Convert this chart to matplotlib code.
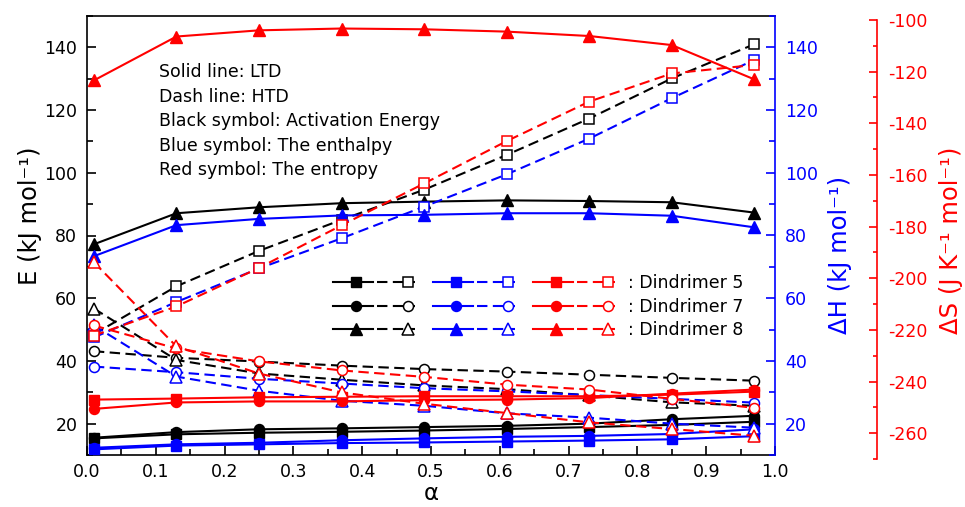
import matplotlib
matplotlib.use('Agg')
import matplotlib.pyplot as plt
from matplotlib.lines import Line2D
from matplotlib.legend_handler import HandlerBase
from matplotlib.ticker import MultipleLocator, FormatStrFormatter

plt.rcParams['font.family'] = ['DejaVu Sans']
plt.rcParams['axes.unicode_minus'] = False

# ---------------- data ----------------
alpha = [0.01, 0.13, 0.25, 0.37, 0.49, 0.61, 0.73, 0.85, 0.97]

# Activation energy E (kJ/mol)
E_ltd_d5 = [15.3, 16.6, 17.1, 17.4, 17.8, 18.3, 18.9, 19.6, 20.6]
E_ltd_d7 = [15.5, 17.3, 18.2, 18.5, 18.9, 19.3, 20.0, 21.4, 22.5]
E_ltd_d8 = [77.2, 87.1, 89.0, 90.3, 90.8, 91.2, 91.0, 90.6, 87.3]
E_htd_d5 = [48.5, 63.8, 75.1, 85.0, 94.6, 105.7, 117.3, 130.1, 141.0]
E_htd_d7 = [43.1, 41.0, 39.8, 38.5, 37.4, 36.6, 35.6, 34.6, 33.7]
E_htd_d8 = [56.7, 40.3, 36.0, 34.0, 32.2, 31.0, 29.0, 26.8, 25.7]

# Enthalpy dH (kJ/mol)
H_ltd_d5 = [11.8, 13.0, 13.4, 13.8, 14.0, 14.3, 14.6, 15.0, 16.0]
H_ltd_d7 = [12.3, 13.4, 13.9, 14.7, 15.3, 15.8, 16.1, 16.7, 18.2]
H_ltd_d8 = [73.4, 83.3, 85.3, 86.4, 86.6, 87.1, 87.1, 86.3, 82.6]
H_htd_d5 = [47.5, 58.8, 69.5, 79.1, 89.2, 99.5, 110.9, 123.8, 136.0]
H_htd_d7 = [38.2, 36.4, 34.3, 32.8, 31.3, 30.3, 29.1, 27.9, 26.7]
H_htd_d8 = [51.3, 35.0, 30.5, 27.3, 25.7, 23.3, 21.9, 20.0, 18.7]

# Entropy dS (J/K/mol)
S_ltd_d5 = [-247.0, -246.6, -246.1, -245.9, -245.7, -245.7, -245.7, -245.1, -243.9]
S_ltd_d7 = [-250.6, -248.1, -247.7, -247.7, -247.2, -247.0, -246.4, -244.7, -243.1]
S_ltd_d8 = [-123.4, -106.4, -104.0, -103.3, -103.6, -104.5, -106.2, -109.7, -123.0]
S_htd_d5 = [-222.2, -210.9, -196.0, -179.5, -163.3, -146.9, -131.6, -120.7, -117.4]
S_htd_d7 = [-218.3, -227.2, -232.2, -235.7, -238.2, -241.2, -243.1, -246.7, -250.2]
S_htd_d8 = [-193.8, -226.4, -236.9, -244.2, -248.6, -252.2, -255.8, -258.4, -261.0]

dendrimer_labels = [': Dindrimer 5', ': Dindrimer 7', ': Dindrimer 8']
note_lines = ['Solid line: LTD', 'Dash line: HTD', 'Black symbol: Activation Energy',
              'Blue symbol: The enthalpy', 'Red symbol: The entropy']
x_ticks = [0.0, 0.1, 0.2, 0.3, 0.4, 0.5, 0.6, 0.7, 0.8, 0.9, 1.0]

# ---------------- figure ----------------
W, H = 965, 507
fig = plt.figure(figsize=(W / 100, H / 100), dpi=100)
L, R, T, B = 87, 775, 16, 455
ax = fig.add_axes([L / W, 1 - B / H, (R - L) / W, (B - T) / H])
axh = ax.twinx()
axs = fig.add_axes([L / W, 1 - 459 / H, (R - L) / W, 439 / H])
axs.patch.set_visible(False)

markers = ['s', 'o', '^']
msizes = [6.5, 7.2, 8.5]
LW_S, LW_D = 1.5, 1.5


def draw(axis, color, ltd, htd):
    solids, dashes = [], []
    for i, (yl, yh) in enumerate(zip(ltd, htd)):
        ls, = axis.plot(alpha, yl, color=color, lw=LW_S, marker=markers[i], ms=msizes[i],
                        mfc=color, mec=color, mew=1.0)
        ld, = axis.plot(alpha, yh, color=color, lw=LW_D, ls=(0, (5, 2.6)), marker=markers[i],
                        ms=msizes[i], mfc='white', mec=color, mew=1.1)
        solids.append(ls)
        dashes.append(ld)
    return solids, dashes


bs, bd = draw(ax, 'black', [E_ltd_d5, E_ltd_d7, E_ltd_d8], [E_htd_d5, E_htd_d7, E_htd_d8])
us, ud = draw(axh, '#0000ff', [H_ltd_d5, H_ltd_d7, H_ltd_d8], [H_htd_d5, H_htd_d7, H_htd_d8])
rs, rd = draw(axs, '#ff0000', [S_ltd_d5, S_ltd_d7, S_ltd_d8], [S_htd_d5, S_htd_d7, S_htd_d8])

# ---------------- axes styling ----------------
for a in (ax, axh, axs):
    a.set_xlim(0, 1.0)
ax.set_ylim(10, 150)
axh.set_ylim(10, 150)
axs.set_ylim(-270, -100)

SW = 1.2
ax.spines['right'].set_visible(False)
for s in ('left', 'top', 'bottom'):
    ax.spines[s].set_linewidth(SW)
for s in ('left', 'top', 'bottom'):
    axh.spines[s].set_visible(False)
axh.spines['right'].set_color('#0000ff')
axh.spines['right'].set_linewidth(SW)
for s in ('left', 'top', 'bottom'):
    axs.spines[s].set_visible(False)
axs.spines['right'].set_position(('axes', (877 - L) / (R - L)))
axs.spines['right'].set_color('#ff0000')
axs.spines['right'].set_linewidth(SW)
axs.xaxis.set_visible(False)
axs.yaxis.tick_right()
axs.yaxis.set_label_position('right')

ax.set_xticks(x_ticks)
ax.xaxis.set_major_formatter(FormatStrFormatter('%.1f'))
ax.xaxis.set_minor_locator(MultipleLocator(0.05))
ax.yaxis.set_major_locator(MultipleLocator(20))
ax.yaxis.set_minor_locator(MultipleLocator(10))
axh.yaxis.set_major_locator(MultipleLocator(20))
axh.yaxis.set_minor_locator(MultipleLocator(10))
axs.yaxis.set_major_locator(MultipleLocator(20))
axs.yaxis.set_minor_locator(MultipleLocator(10))

FS = 12.5
ax.tick_params(axis='both', which='both', direction='in', top=False, right=False, width=SW)
ax.tick_params(axis='both', which='major', length=6.5, labelsize=FS)
ax.tick_params(axis='both', which='minor', length=4)
ax.tick_params(axis='x', which='major', pad=6)
ax.tick_params(axis='y', which='major', pad=7)
axh.tick_params(axis='y', which='both', direction='in', colors='#0000ff', width=SW)
axh.tick_params(axis='y', which='major', length=6.5, labelsize=FS, pad=7)
axh.tick_params(axis='y', which='minor', length=4)
axs.tick_params(axis='y', which='both', direction='in', colors='#ff0000', width=SW,
                left=False, labelleft=False, right=True, labelright=True)
axs.tick_params(axis='y', which='major', length=5.5, labelsize=FS, pad=8)
axs.tick_params(axis='y', which='minor', length=3.2)

LFS = 17.5
ax.set_xlabel('α', fontsize=16.5)
ax.xaxis.set_label_coords(0.5, (B - 494) / (B - T))
ax.xaxis.label.set_va('center')
ax.set_ylabel('E (kJ mol⁻¹)', fontsize=LFS)
ax.yaxis.set_label_coords((29.5 - L) / (R - L), (B - 216) / (B - T))
axh.set_ylabel('ΔH (kJ mol⁻¹)', fontsize=LFS, color='#0000ff')
axh.yaxis.set_label_coords((840 - L) / (R - L), (B - 255) / (B - T))
axs.set_ylabel('ΔS (J K⁻¹ mol⁻¹)', fontsize=LFS, color='#ff0000')
axs.yaxis.set_label_coords((951 - L) / (R - L), (459 - 240.5) / 439)
for lab in (ax.yaxis.label, axh.yaxis.label, axs.yaxis.label):
    lab.set_va('center')
    lab.set_ha('center')
    lab.set_rotation(90)

# annotation block
baselines = [77.3, 101.7, 126.2, 150.8, 175.3]
for txt, yb in zip(note_lines, baselines):
    ax.text((159.3 - L) / (R - L), (B - yb) / (B - T), txt, transform=ax.transAxes,
            fontsize=FS, va='baseline', ha='left')


# ---------------- legend ----------------
class PairHandler(HandlerBase):
    def create_artists(self, legend, orig_handle, xdescent, ydescent, width, height,
                       fontsize, trans):
        solid, dashed = orig_handle
        y = height / 2.0 - ydescent
        x0 = -xdescent
        split = x0 + 0.49 * width
        l1 = Line2D([x0, split], [y, y])
        l1.update_from(solid)
        l1.set_marker('None')
        m1 = Line2D([x0 + 0.28 * width], [y])
        m1.update_from(solid)
        m1.set_linestyle('None')
        l2 = Line2D([split + 0.05 * width, x0 + width], [y, y])
        l2.update_from(dashed)
        l2.set_marker('None')
        m2 = Line2D([x0 + 0.915 * width], [y])
        m2.update_from(dashed)
        m2.set_linestyle('None')
        arts = [l1, l2, m1, m2]
        for a in arts:
            a.set_transform(trans)
            a.set_clip_on(False)
        return arts


handles = [(bs[i], bd[i]) for i in range(3)] + [(us[i], ud[i]) for i in range(3)] + \
          [(rs[i], rd[i]) for i in range(3)]
labels = [''] * 6 + dendrimer_labels
em = FS * 100 / 72
leg = axs.legend(handles, labels, handler_map={tuple: PairHandler()}, ncol=3,
                 loc='center left', bbox_to_anchor=(333 / W, 1 - 306.7 / H),
                 bbox_transform=fig.transFigure, frameon=False, borderpad=0,
                 borderaxespad=0, handlelength=82 / em, handletextpad=13 / em,
                 columnspacing=5 / em, labelspacing=0.32, fontsize=FS)

fig.savefig('out.png', dpi=100)
